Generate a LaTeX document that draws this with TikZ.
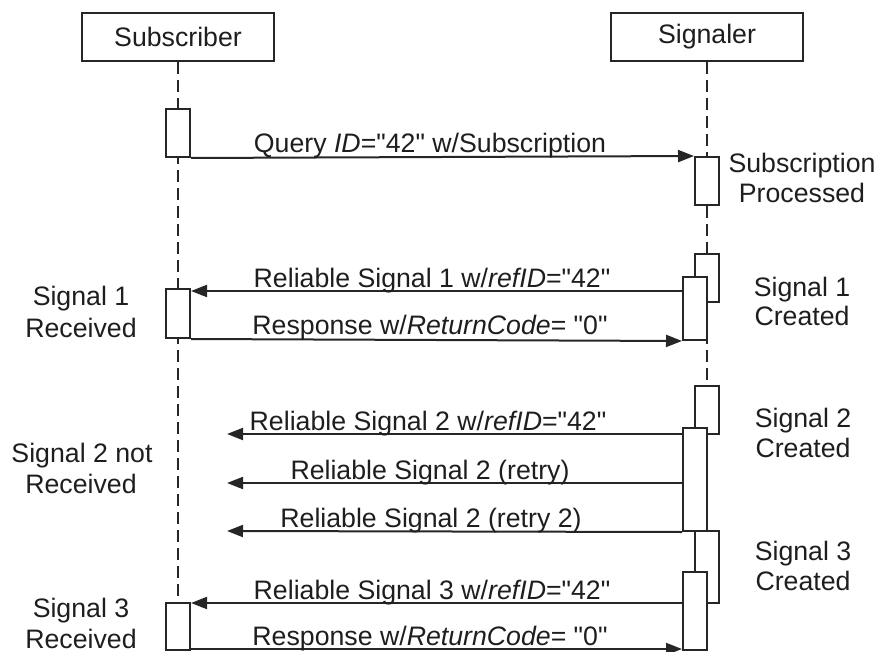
\documentclass[tikz,border=0pt]{standalone}
\usepackage{fontspec}
\setmainfont{Liberation Sans}[Ligatures=TeXOff]
\usetikzlibrary{arrows.meta}
\definecolor{lc}{HTML}{262626}
\definecolor{tc}{HTML}{1E1E1E}
\newcommand{\lblfont}{\fontsize{26.7}{30}\selectfont}
\begin{document}
\begin{tikzpicture}[x=1pt,y=-1pt,line width=2pt,
  headbox/.style={draw=lc, fill=white, minimum width=192pt, minimum height=48pt, inner sep=0pt, font=\lblfont, text=tc},
  actbox/.style={draw=lc, fill=white, minimum width=24pt, inner sep=0pt},
  lifeline/.style={draw=lc, dash pattern=on 12pt off 6pt},
  msg/.style={draw=lc, -{Triangle[length=16pt,width=12pt]}},
  lbl/.style={font=\lblfont, text=tc, anchor=base, inner sep=0pt}]
\useasboundingbox (0,0) rectangle (877,652);
% headers
\node[headbox] (subH) at (178,37) {Subscriber};
\node[headbox] (sigH) at (707,37) {Signaler};
\coordinate (subEnd) at (178,652);
\coordinate (sigEnd) at (707,652);
\draw[lifeline] (subH.south) -- (subEnd);
\draw[lifeline] (sigH.south) -- (sigEnd);
% subscriber activations
\node[actbox, minimum height=48pt] (sub1) at (178,133) {};
\node[actbox, minimum height=49pt] (sub2) at (178,313.5) {};
\node[actbox, minimum height=47pt] (sub3) at (178,626.5) {};
% signaler activations
\node[actbox, minimum height=48pt] (proc) at (707,181) {};
\node[actbox, minimum height=48pt] (s1a) at (707,278) {};
\node[actbox, minimum height=63pt] (s1b) at (695,308.5) {};
\node[actbox, minimum height=48pt] (s2a) at (707,410) {};
\node[actbox, minimum height=103pt] (s2b) at (695,479.5) {};
\node[actbox, minimum height=72pt] (s3a) at (707,567) {};
\node[actbox, minimum height=78pt] (s3b) at (695,611) {};
% free ends
\coordinate (e2a) at (227,434);
\coordinate (e2b) at (227,483);
\coordinate (e2c) at (227,531);
% messages
\draw[msg] (sub1.south east) -- (proc.north west);
\draw[msg] (s1b.west |- 0,291) -- (sub2.east |- 0,291);
\draw[msg] (sub2.south east) -- (s1b.south west);
\draw[msg] (s2b.west |- e2a) -- (e2a);
\draw[msg] (s2b.west |- e2b) -- (e2b);
\draw[msg] (s2b.south west) -- (e2c);
\draw[msg] (s3b.west |- 0,603) -- (sub3.east |- 0,603);
\draw[msg] (sub3.east |- 0,649) -- (s3b.west |- 0,649);
% message labels
\node[lbl] (m1) at (430,153) {Query \textit{ID}="42" w/Subscription};
\node[lbl] (m2) at (432,287) {Reliable Signal 1 w/\textit{refID}="42"};
\node[lbl] (m3) at (430,334) {Response w/\textit{ReturnCode}= "0"};
\node[lbl] (m4) at (428,430) {Reliable Signal 2 w/\textit{refID}="42"};
\node[lbl] (m5) at (430,479) {Reliable Signal 2 (retry)};
\node[lbl] (m6) at (431,527) {Reliable Signal 2 (retry 2)};
\node[lbl] (m7) at (432,599) {Reliable Signal 3 w/\textit{refID}="42"};
\node[lbl] (m8) at (430,645) {Response w/\textit{ReturnCode}= "0"};
% left notes
\node[lbl] (n1a) at (81,305) {Signal 1};
\node[lbl] (n1b) at (81,337) {Received};
\node[lbl] (n2a) at (82,462) {Signal 2 not};
\node[lbl] (n2b) at (81,493) {Received};
\node[lbl] (n3a) at (81,617) {Signal 3};
\node[lbl] (n3b) at (81,648) {Received};
% right notes
\node[lbl] (r0a) at (802,173) {Subscription};
\node[lbl] (r0b) at (802,203) {Processed};
\node[lbl] (r1a) at (802,296) {Signal 1};
\node[lbl] (r1b) at (802,325) {Created};
\node[lbl] (r2a) at (803,427) {Signal 2};
\node[lbl] (r2b) at (803,457) {Created};
\node[lbl] (r3a) at (803,560) {Signal 3};
\node[lbl] (r3b) at (803,590) {Created};
\end{tikzpicture}
\end{document}
